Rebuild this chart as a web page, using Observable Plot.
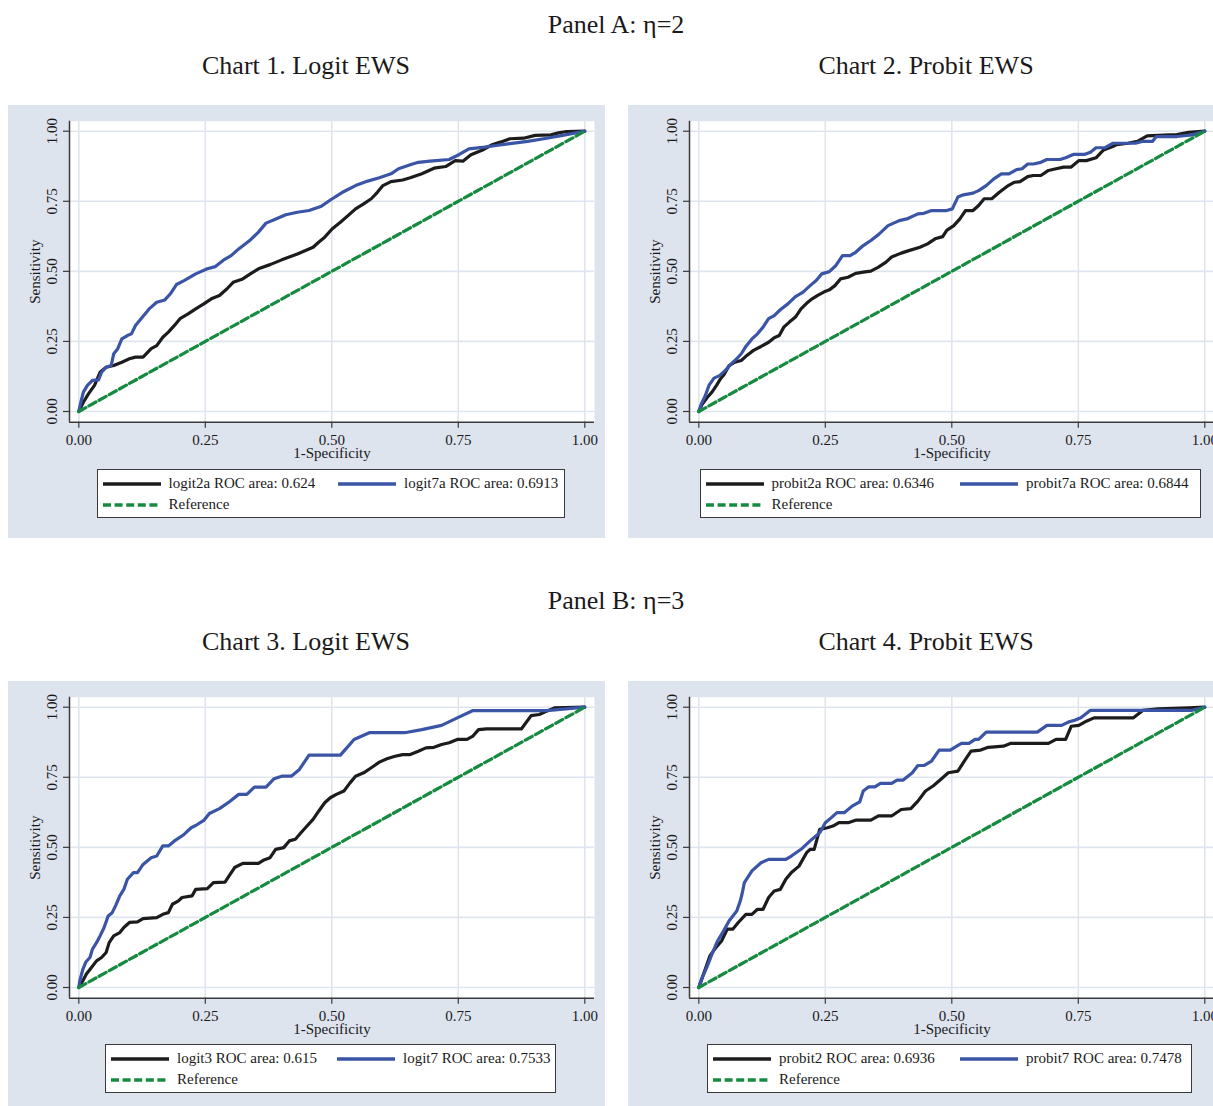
<!DOCTYPE html>
<html>
<head>
<meta charset="utf-8">
<script src="https://cdn.jsdelivr.net/npm/d3@7"></script>
<script src="https://cdn.jsdelivr.net/npm/@observablehq/plot@0.6"></script>
<style>
  body { margin: 0; background: #fff; }
  #root { position: relative; width: 1213px; height: 1106px; overflow: hidden; background: #fff;
          font-family: "Liberation Serif", "DejaVu Serif", serif; color: #1a1a1a; }
  .ttl { position: absolute; white-space: nowrap; transform: translateX(-50%); font-size: 26px; line-height: 26px; }
  .panel { position: absolute; width: 597px; height: 433px; background: #dde4ee; }
  .panel svg.plot { position: absolute; left: 0; top: 0; }
  .legend { position: absolute; background: #fff; border: 1px solid #3a3a3a; box-sizing: border-box; height: 49px; }
  .legend .sw { position: absolute; width: 58px; height: 8px; }
  .legend .lt { position: absolute; font-size: 15px; line-height: 15px; white-space: nowrap; }
</style>
</head>
<body>
<div id="root"></div>
<script>
// ---------------- data ----------------
const ticks = [0, 0.25, 0.5, 0.75, 1];
const tickLabels = ["0.00", "0.25", "0.50", "0.75", "1.00"];
const reference = [[0, 0], [1, 1]];

const logit2a = [[0,0],[0.009,0.033],[0.019,0.063],[0.031,0.093],[0.042,0.140],[0.054,0.158],[0.069,0.164],[0.085,0.176],[0.100,0.188],[0.112,0.194],[0.127,0.194],[0.143,0.224],[0.154,0.235],[0.166,0.265],[0.177,0.283],[0.189,0.307],[0.200,0.331],[0.216,0.348],[0.231,0.366],[0.247,0.384],[0.262,0.402],[0.278,0.414],[0.293,0.438],[0.305,0.461],[0.324,0.473],[0.339,0.491],[0.355,0.509],[0.378,0.524],[0.401,0.541],[0.432,0.562],[0.463,0.586],[0.474,0.604],[0.486,0.622],[0.501,0.652],[0.517,0.675],[0.532,0.699],[0.547,0.723],[0.563,0.741],[0.578,0.759],[0.590,0.782],[0.601,0.806],[0.617,0.820],[0.640,0.826],[0.655,0.834],[0.678,0.848],[0.702,0.868],[0.725,0.874],[0.744,0.895],[0.759,0.893],[0.775,0.916],[0.798,0.933],[0.817,0.952],[0.833,0.961],[0.852,0.973],[0.879,0.975],[0.902,0.985],[0.933,0.987],[0.948,0.994],[0.964,0.999],[1,1]];
const logit7a = [[0,0],[0.004,0.033],[0.009,0.069],[0.017,0.093],[0.027,0.111],[0.039,0.113],[0.045,0.140],[0.054,0.158],[0.064,0.164],[0.069,0.206],[0.077,0.224],[0.085,0.259],[0.096,0.271],[0.104,0.277],[0.112,0.307],[0.123,0.331],[0.139,0.366],[0.154,0.390],[0.170,0.398],[0.181,0.420],[0.193,0.453],[0.208,0.467],[0.231,0.491],[0.254,0.509],[0.270,0.517],[0.285,0.539],[0.301,0.556],[0.316,0.580],[0.339,0.612],[0.355,0.640],[0.370,0.672],[0.386,0.684],[0.409,0.702],[0.432,0.711],[0.455,0.717],[0.478,0.731],[0.501,0.759],[0.524,0.785],[0.547,0.806],[0.571,0.822],[0.594,0.834],[0.617,0.848],[0.632,0.866],[0.655,0.880],[0.671,0.889],[0.694,0.893],[0.732,0.899],[0.752,0.917],[0.771,0.937],[0.802,0.943],[0.825,0.949],[0.848,0.955],[0.887,0.964],[0.925,0.975],[0.956,0.985],[1,1]];

const probit2a = [[0,0],[0.007,0.027],[0.017,0.051],[0.026,0.069],[0.035,0.093],[0.043,0.117],[0.050,0.132],[0.060,0.164],[0.071,0.176],[0.084,0.182],[0.095,0.200],[0.108,0.218],[0.123,0.232],[0.138,0.247],[0.149,0.263],[0.159,0.271],[0.168,0.301],[0.179,0.319],[0.191,0.337],[0.202,0.366],[0.213,0.386],[0.224,0.402],[0.235,0.414],[0.247,0.426],[0.258,0.434],[0.269,0.449],[0.280,0.473],[0.295,0.479],[0.310,0.493],[0.325,0.497],[0.340,0.501],[0.355,0.515],[0.370,0.533],[0.381,0.551],[0.400,0.565],[0.415,0.574],[0.437,0.586],[0.452,0.598],[0.467,0.616],[0.482,0.624],[0.490,0.646],[0.504,0.663],[0.516,0.687],[0.527,0.717],[0.542,0.717],[0.553,0.735],[0.564,0.759],[0.579,0.759],[0.594,0.782],[0.609,0.803],[0.624,0.818],[0.635,0.820],[0.650,0.838],[0.661,0.842],[0.676,0.842],[0.691,0.860],[0.706,0.866],[0.721,0.872],[0.736,0.872],[0.751,0.895],[0.766,0.895],[0.785,0.905],[0.800,0.933],[0.818,0.945],[0.826,0.952],[0.848,0.957],[0.867,0.964],[0.886,0.983],[0.908,0.985],[0.945,0.988],[0.968,0.996],[1,1]];
const probit7a = [[0,0],[0.005,0.027],[0.013,0.057],[0.020,0.093],[0.030,0.119],[0.041,0.128],[0.052,0.146],[0.064,0.170],[0.075,0.188],[0.084,0.206],[0.093,0.232],[0.105,0.259],[0.116,0.277],[0.127,0.301],[0.138,0.331],[0.149,0.342],[0.161,0.363],[0.176,0.384],[0.191,0.410],[0.206,0.426],[0.220,0.449],[0.232,0.467],[0.243,0.491],[0.258,0.499],[0.271,0.521],[0.284,0.556],[0.299,0.556],[0.310,0.568],[0.325,0.592],[0.340,0.610],[0.355,0.631],[0.374,0.663],[0.385,0.672],[0.396,0.681],[0.411,0.687],[0.433,0.705],[0.445,0.707],[0.460,0.717],[0.490,0.717],[0.501,0.723],[0.512,0.765],[0.523,0.773],[0.542,0.779],[0.553,0.788],[0.568,0.806],[0.583,0.830],[0.598,0.848],[0.613,0.848],[0.628,0.863],[0.639,0.866],[0.650,0.883],[0.661,0.883],[0.676,0.889],[0.688,0.899],[0.714,0.899],[0.725,0.905],[0.740,0.917],[0.762,0.917],[0.774,0.925],[0.785,0.941],[0.803,0.941],[0.818,0.957],[0.863,0.957],[0.878,0.964],[0.897,0.964],[0.904,0.981],[0.945,0.981],[0.975,0.987],[1,1]];

const logit3 = [[0,0],[0.008,0.024],[0.015,0.048],[0.025,0.071],[0.035,0.095],[0.045,0.107],[0.054,0.125],[0.060,0.160],[0.069,0.184],[0.081,0.196],[0.089,0.214],[0.100,0.232],[0.116,0.234],[0.127,0.246],[0.154,0.249],[0.166,0.261],[0.177,0.267],[0.185,0.297],[0.197,0.309],[0.204,0.321],[0.224,0.327],[0.231,0.350],[0.254,0.353],[0.266,0.374],[0.289,0.376],[0.297,0.398],[0.308,0.428],[0.324,0.443],[0.355,0.443],[0.366,0.455],[0.378,0.463],[0.389,0.493],[0.405,0.499],[0.416,0.523],[0.428,0.529],[0.439,0.552],[0.451,0.576],[0.463,0.600],[0.474,0.629],[0.486,0.659],[0.497,0.677],[0.509,0.689],[0.524,0.701],[0.536,0.730],[0.547,0.754],[0.563,0.766],[0.578,0.784],[0.594,0.804],[0.609,0.816],[0.625,0.825],[0.640,0.831],[0.655,0.831],[0.671,0.843],[0.686,0.855],[0.702,0.857],[0.717,0.867],[0.732,0.873],[0.748,0.885],[0.767,0.885],[0.779,0.897],[0.790,0.920],[0.806,0.923],[0.875,0.923],[0.894,0.970],[0.910,0.974],[0.925,0.986],[0.941,0.998],[1,1]];
const logit7 = [[0,0],[0.002,0.024],[0.008,0.065],[0.014,0.091],[0.022,0.107],[0.027,0.137],[0.035,0.160],[0.042,0.184],[0.050,0.214],[0.058,0.255],[0.066,0.267],[0.073,0.293],[0.081,0.327],[0.089,0.350],[0.096,0.386],[0.108,0.410],[0.116,0.410],[0.127,0.439],[0.143,0.463],[0.154,0.469],[0.166,0.505],[0.177,0.505],[0.189,0.523],[0.208,0.546],[0.222,0.570],[0.231,0.578],[0.247,0.596],[0.258,0.621],[0.278,0.638],[0.297,0.662],[0.316,0.689],[0.332,0.689],[0.347,0.715],[0.370,0.715],[0.386,0.745],[0.401,0.754],[0.420,0.754],[0.436,0.778],[0.455,0.829],[0.517,0.829],[0.544,0.885],[0.574,0.909],[0.644,0.909],[0.678,0.920],[0.717,0.935],[0.748,0.962],[0.779,0.988],[0.925,0.988],[1,1]];

const probit2 = [[0,0],[0.007,0.036],[0.015,0.077],[0.022,0.113],[0.034,0.143],[0.045,0.166],[0.056,0.208],[0.067,0.208],[0.078,0.232],[0.093,0.261],[0.105,0.261],[0.116,0.279],[0.127,0.279],[0.138,0.321],[0.149,0.344],[0.161,0.350],[0.172,0.386],[0.183,0.410],[0.198,0.433],[0.213,0.481],[0.220,0.493],[0.228,0.493],[0.239,0.564],[0.254,0.570],[0.265,0.576],[0.277,0.588],[0.295,0.588],[0.310,0.597],[0.340,0.597],[0.355,0.612],[0.381,0.612],[0.400,0.635],[0.419,0.638],[0.433,0.665],[0.448,0.701],[0.463,0.719],[0.478,0.742],[0.493,0.766],[0.512,0.772],[0.527,0.814],[0.538,0.843],[0.557,0.847],[0.572,0.857],[0.602,0.861],[0.617,0.871],[0.691,0.871],[0.706,0.885],[0.725,0.885],[0.736,0.932],[0.751,0.935],[0.766,0.950],[0.781,0.962],[0.859,0.962],[0.878,0.989],[0.908,0.994],[0.968,0.998],[1,1]];
const probit7 = [[0,0],[0.007,0.036],[0.017,0.077],[0.026,0.119],[0.037,0.166],[0.049,0.202],[0.060,0.238],[0.075,0.273],[0.082,0.309],[0.086,0.338],[0.090,0.374],[0.105,0.416],[0.123,0.445],[0.138,0.457],[0.172,0.457],[0.183,0.469],[0.202,0.493],[0.220,0.523],[0.239,0.552],[0.250,0.588],[0.262,0.606],[0.273,0.624],[0.288,0.624],[0.303,0.647],[0.318,0.662],[0.325,0.701],[0.336,0.716],[0.348,0.716],[0.359,0.728],[0.381,0.728],[0.392,0.740],[0.404,0.740],[0.422,0.766],[0.433,0.792],[0.445,0.792],[0.460,0.808],[0.475,0.847],[0.497,0.847],[0.504,0.855],[0.519,0.871],[0.534,0.871],[0.546,0.885],[0.553,0.885],[0.568,0.911],[0.669,0.911],[0.688,0.935],[0.717,0.935],[0.732,0.948],[0.744,0.954],[0.755,0.962],[0.774,0.989],[0.975,0.989],[1,1]];

const panelTitles = ["Panel A: \u03b7=2", "Panel B: \u03b7=3"];
const chartTitles = ["Chart 1. Logit EWS", "Chart 2. Probit EWS", "Chart 3. Logit EWS", "Chart 4. Probit EWS"];
const seriesA = [logit2a, probit2a, logit3, probit2];
const seriesB = [logit7a, probit7a, logit7, probit7];
const labelsA = ["logit2a ROC area: 0.624", "probit2a ROC area: 0.6346", "logit3 ROC area: 0.615", "probit2 ROC area: 0.6936"];
const labelsB = ["logit7a ROC area: 0.6913", "probit7a ROC area: 0.6844", "logit7 ROC area: 0.7533", "probit7 ROC area: 0.7478"];
const refLabel = "Reference";

// ---------------- layout ----------------
const FONT = '"Liberation Serif", "DejaVu Serif", serif';
const C_BLACK = "#1c1c1c", C_BLUE = "#3a54a6", C_GREEN = "#168a3e", C_AXIS = "#3a3a3a", C_GRID = "#dfe5ef";
const panelPos = [[7.5, 105], [627.5, 105], [7.5, 681], [627.5, 681]];
const legendPos = [ // left, width, col2 offset
  [89, 468, 241.5], [72, 501, 260.5], [97.5, 451, 232], [79.5, 485, 253]
];
const W = 597, H = 364;
const XMIN = -0.0184, XMAX = 1.0192, YMIN = -0.0382, YMAX = 1.0357;

const root = document.getElementById("root");
function addTitle(text, cx, cy) {
  const d = document.createElement("div");
  d.className = "ttl";
  d.textContent = text;
  d.style.left = cx + "px";
  d.style.top = (cy - 13.5) + "px";
  root.appendChild(d);
}
addTitle(panelTitles[0], 616, 25);
addTitle(panelTitles[1], 616, 601);
panelPos.forEach(([px, py], i) => addTitle(chartTitles[i], px + W / 2, py - 39));

function swatch(color, dashed) {
  const ns = "http://www.w3.org/2000/svg";
  const s = document.createElementNS(ns, "svg");
  s.setAttribute("class", "sw");
  s.setAttribute("width", 58); s.setAttribute("height", 8);
  const l = document.createElementNS(ns, "line");
  l.setAttribute("x1", 0); l.setAttribute("x2", 58); l.setAttribute("y1", 4); l.setAttribute("y2", 4);
  l.setAttribute("stroke", color); l.setAttribute("stroke-width", 3.4);
  if (dashed) l.setAttribute("stroke-dasharray", "8,3.6");
  s.appendChild(l);
  return s;
}

panelPos.forEach(([px, py], i) => {
  const panel = document.createElement("div");
  panel.className = "panel";
  panel.style.left = px + "px";
  panel.style.top = py + "px";
  root.appendChild(panel);

  const plot = Plot.plot({
    width: W, height: H,
    marginLeft: 61, marginRight: W - 586, marginTop: 15.7, marginBottom: H - 316.7,
    x: { domain: [XMIN, XMAX] },
    y: { domain: [YMIN, YMAX] },
    style: { background: "transparent", fontFamily: FONT, fontSize: "15px", color: "#1a1a1a", overflow: "visible" },
    marks: [
      Plot.frame({ fill: "white", stroke: null }),
      Plot.gridX(ticks, { stroke: C_GRID, strokeOpacity: 1, strokeWidth: 1.6 }),
      Plot.gridY(ticks, { stroke: C_GRID, strokeOpacity: 1, strokeWidth: 1.6 }),
      Plot.ruleX([XMIN], { stroke: C_AXIS, strokeWidth: 1.5 }),
      Plot.ruleY([YMIN], { stroke: C_AXIS, strokeWidth: 1.5 }),
      Plot.axisX({ ticks, tickFormat: d => tickLabels[ticks.indexOf(d)], tickSize: 6, tickPadding: 6, stroke: C_AXIS, strokeWidth: 1.2, label: null, fontSize: 15 }),
      Plot.axisY({ ticks, tickFormat: () => "", tickSize: 6, stroke: C_AXIS, strokeWidth: 1.2, label: null }),
      Plot.text(ticks, { x: () => XMIN, y: d => d, text: (d, j) => tickLabels[j], rotate: -90, dx: -17.4, fontSize: 15, fill: "#1a1a1a" }),
      Plot.text(["1-Specificity"], { frameAnchor: "bottom", textAnchor: "middle", dy: 35.5, fontSize: 15, fill: "#1a1a1a" }),
      Plot.text(["Sensitivity"], { frameAnchor: "left", textAnchor: "middle", rotate: -90, dx: -34.5, fontSize: 15, fill: "#1a1a1a" }),
      Plot.line(seriesA[i], { x: d => d[0], y: d => d[1], stroke: C_BLACK, strokeWidth: 3.2, strokeLinejoin: "round" }),
      Plot.line(seriesB[i], { x: d => d[0], y: d => d[1], stroke: C_BLUE, strokeWidth: 3.2, strokeLinejoin: "round" }),
      Plot.line(reference, { x: d => d[0], y: d => d[1], stroke: C_GREEN, strokeWidth: 3.2, strokeDasharray: "8,3.6" })
    ]
  });
  plot.classList.add("plot");
  panel.appendChild(plot);

  const [lx, lw, c2] = legendPos[i];
  const lg = document.createElement("div");
  lg.className = "legend";
  lg.style.left = lx + "px";
  lg.style.top = (i < 2 ? 364 : 363) + "px";
  lg.style.width = lw + "px";
  panel.appendChild(lg);
  const items = [
    [C_BLACK, false, labelsA[i], 6, 15],
    [C_BLUE, false, labelsB[i], c2, 15],
    [C_GREEN, true, refLabel, 6, 36]
  ];
  items.forEach(([col, dashed, txt, x, y]) => {
    const s = swatch(col, dashed);
    s.style.left = (x - 1) + "px";
    s.style.top = (y - 1 - 4) + "px";
    lg.appendChild(s);
    const t = document.createElement("div");
    t.className = "lt";
    t.textContent = txt;
    t.style.left = (x - 1 + 66) + "px";
    t.style.top = (y - 1 - 7.6) + "px";
    lg.appendChild(t);
  });
});
</script>
</body>
</html>
